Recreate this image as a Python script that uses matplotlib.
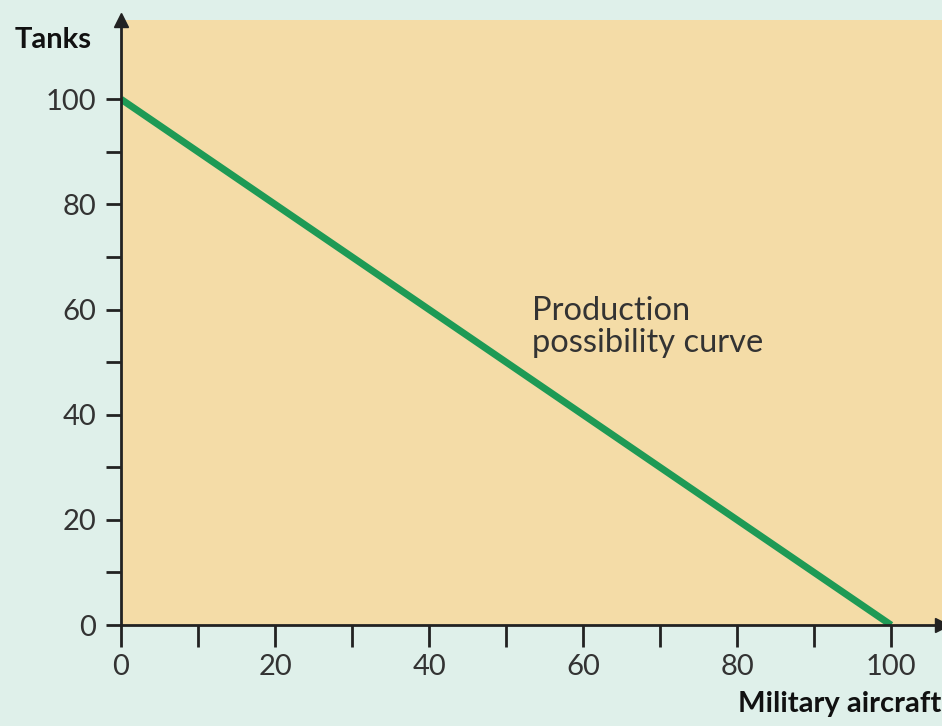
import matplotlib
matplotlib.use("Agg")
import matplotlib.pyplot as plt
import numpy as np

# production possibility curve: tanks vs military aircraft
aircraft = [0, 100]
tanks = [100, 0]
major_ticks = [0, 20, 40, 60, 80, 100]
minor_ticks = [10, 30, 50, 70, 90]

bg = "#dff0ea"
panel = "#f4dca7"
green = "#1e9a55"

plt.rcParams['font.family'] = ['Lato', 'DejaVu Sans']

fig = plt.figure(figsize=(9.42, 7.26), dpi=100, facecolor=bg)
ax = fig.add_axes([0.1285, 0.139, 0.8715, 0.833])
ax.set_facecolor(panel)

ax.plot(aircraft, tanks, color=green, lw=5, solid_capstyle='butt')

ax.set_xlim(0, 106.6)
ax.set_ylim(0, 115)
for s in ['top', 'right']:
    ax.spines[s].set_visible(False)
for s in ['left', 'bottom']:
    ax.spines[s].set_linewidth(2)
    ax.spines[s].set_color('#222222')

ax.set_xticks(major_ticks)
ax.set_xticks(minor_ticks, minor=True)
ax.set_yticks(major_ticks)
ax.set_yticks(minor_ticks, minor=True)
ax.tick_params(axis='x', which='both', length=16, width=2, color='#222222',
               labelsize=21, pad=5, labelcolor='#333333')
ax.tick_params(axis='y', which='both', length=11, width=2, color='#222222',
               labelsize=21, pad=7, labelcolor='#333333')

# axis arrows
ax.plot([0], [115], marker='^', markersize=10, color='#222222', clip_on=False)
ax.plot([106.6], [0], marker='>', markersize=10, color='#222222', clip_on=False)

ax.text(53.4, 58.0, "Production", fontsize=23.5, color='#333333',
        va='baseline', ha='left')
ax.text(53.4, 52.0, "possibility curve", fontsize=23.5, color='#333333',
        va='baseline', ha='left')

fig.text(15 / 942, 1 - 40 / 726, "Tanks", fontsize=21, fontweight='bold',
         va='center', ha='left', color='#111111')
fig.text(0.999, 1 - 704 / 726, "Military aircraft", fontsize=21, fontweight='bold',
         va='center', ha='right', color='#111111')

fig.savefig("out.png", dpi=100, facecolor=bg)
